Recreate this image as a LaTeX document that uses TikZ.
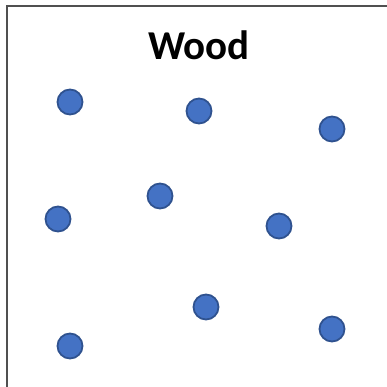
\documentclass[tikz,border=0pt]{standalone}
\usepackage{fontspec}
\setmainfont{Carlito}
\definecolor{dotfill}{HTML}{4472C4}
\definecolor{dotline}{HTML}{2F528F}
\definecolor{frame}{HTML}{505050}
\begin{document}
\begin{tikzpicture}[x=1pt,y=-1pt,
  particle/.style={circle,fill=dotfill,draw=dotline,line width=1.8pt,minimum size=25pt,inner sep=0pt}]
\useasboundingbox (0,0) rectangle (386,387);
\draw[frame,line width=2.2pt] (7,400) -- (7,6) -- (400,6);
\node[font=\bfseries\fontsize{41}{46}\selectfont] (title) at (199,45) {Wood};
\node[particle] (p1) at (70,102) {};
\node[particle] (p2) at (199,111) {};
\node[particle] (p3) at (332,129) {};
\node[particle] (p4) at (58,219) {};
\node[particle] (p5) at (160,196) {};
\node[particle] (p6) at (279,226) {};
\node[particle] (p7) at (206,307) {};
\node[particle] (p8) at (332,329) {};
\node[particle] (p9) at (70,346) {};
\end{tikzpicture}
\end{document}
